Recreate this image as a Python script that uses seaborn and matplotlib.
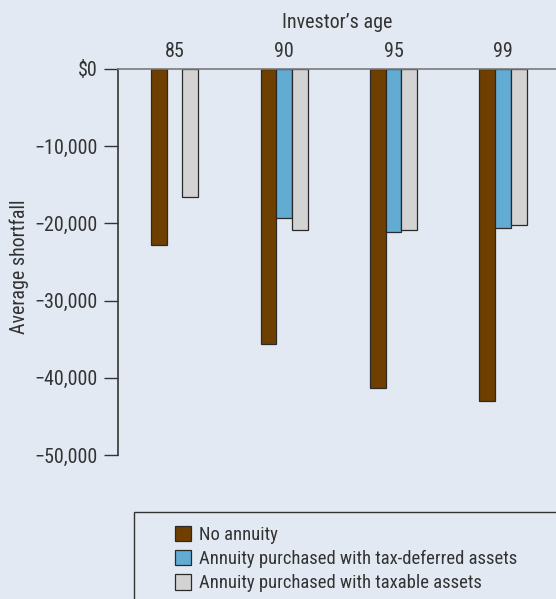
import matplotlib
matplotlib.use("Agg")
import matplotlib.pyplot as plt
from matplotlib.patches import Rectangle
from matplotlib.ticker import FuncFormatter, MultipleLocator
import numpy as np
import pandas as pd
import seaborn as sns

# Average shortfall by investor age and annuity strategy
ages = ["85", "90", "95", "99"]
no_annuity = [-22800, -35600, -41300, -43000]
tax_deferred = [np.nan, -19300, -21100, -20600]
taxable = [-16600, -20900, -20800, -20200]
series_names = [
    "No annuity",
    "Annuity purchased with tax-deferred assets",
    "Annuity purchased with taxable assets",
]
series_colors = ["#6f3f00", "#62acd3", "#d3d3d3"]

BG = "#e2e9f3"
INK = "#333333"

df = pd.DataFrame({
    "age": ages * 3,
    "shortfall": no_annuity + tax_deferred + taxable,
    "series": [s for s in series_names for _ in ages],
})

sns.set_theme(style="white")
plt.rcParams["font.family"] = ["Roboto Condensed", "Liberation Sans Narrow",
                               "Roboto", "DejaVu Sans"]
plt.rcParams["font.stretch"] = "condensed"
plt.rcParams["text.color"] = INK
plt.rcParams["axes.labelcolor"] = INK
plt.rcParams["xtick.color"] = INK
plt.rcParams["ytick.color"] = INK

FS = 14.4

W, H = 556, 599
fig = plt.figure(figsize=(W / 100, H / 100), dpi=100, facecolor=BG)
ax = fig.add_axes([118 / W, 1 - 455 / H, (W - 118) / W, (455 - 69) / H])
ax.set_facecolor(BG)

sns.barplot(
    data=df, x="age", y="shortfall", hue="series",
    order=ages, hue_order=series_names, palette=series_colors,
    saturation=1, width=0.43, edgecolor="#2a2a2a", linewidth=0.9,
    errorbar=None, ax=ax, legend=True,
)

ax.set_xlim(-0.517, 3.484)
ax.set_ylim(-50000, 0)
ax.yaxis.set_major_locator(MultipleLocator(10000))
ax.yaxis.set_major_formatter(
    FuncFormatter(lambda v, _: "$0" if v == 0 else f"\u2212{abs(v):,.0f}")
)

ax.xaxis.tick_top()
ax.xaxis.set_label_position("top")
ax.tick_params(axis="x", length=0, pad=6, labelsize=FS)
ax.tick_params(axis="y", length=10, width=1, pad=4.5, labelsize=FS, left=True)
ax.set_xlabel("Investor\u2019s age", fontsize=FS, labelpad=10)
ax.set_ylabel("Average shortfall", fontsize=FS)
ax.yaxis.set_label_coords(-0.203, 0.487)

for side in ("right", "bottom"):
    ax.spines[side].set_visible(False)
ax.spines["left"].set_color(INK)
ax.spines["left"].set_linewidth(1.2)
ax.spines["top"].set_color("#7a7a7a")
ax.spines["top"].set_linewidth(1.2)

# Legend panel along the bottom edge
handles, labels = ax.get_legend_handles_labels()
ax.get_legend().remove()
fig.patches.append(Rectangle(
    (134 / W, -0.02), 1.0, 1 - 512 / H + 0.02,
    transform=fig.transFigure, facecolor=BG, edgecolor=INK, linewidth=1.0,
    zorder=0,
))
fig.legend(
    handles, labels, loc="upper left",
    bbox_to_anchor=(175 / W, 1 - 526 / H),
    frameon=False, fontsize=13.4, borderpad=0, borderaxespad=0,
    handlelength=0.88, handleheight=0.88, handletextpad=0.42,
    labelspacing=0.33,
)

fig.savefig("out.png", dpi=100, facecolor=BG)
